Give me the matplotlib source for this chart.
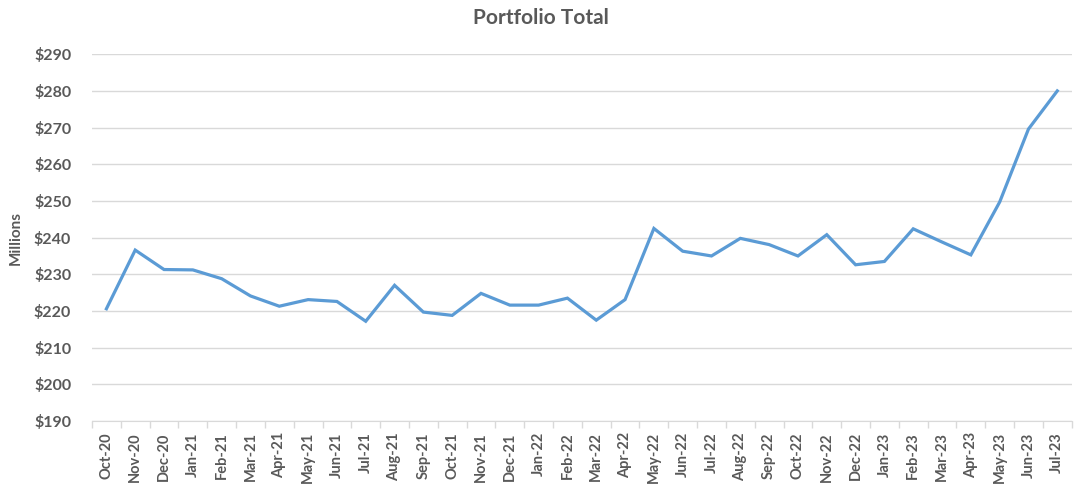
# -*- coding: utf-8 -*-
import matplotlib
matplotlib.use('Agg')
import matplotlib.pyplot as plt
from matplotlib.ticker import FuncFormatter, MultipleLocator, FixedLocator

# Data (millions of dollars)
months = ['Oct-20', 'Nov-20', 'Dec-20', 'Jan-21', 'Feb-21', 'Mar-21', 'Apr-21',
          'May-21', 'Jun-21', 'Jul-21', 'Aug-21', 'Sep-21', 'Oct-21', 'Nov-21',
          'Dec-21', 'Jan-22', 'Feb-22', 'Mar-22', 'Apr-22', 'May-22', 'Jun-22',
          'Jul-22', 'Aug-22', 'Sep-22', 'Oct-22', 'Nov-22', 'Dec-22', 'Jan-23',
          'Feb-23', 'Mar-23', 'Apr-23', 'May-23', 'Jun-23', 'Jul-23']
totals = [220.6, 236.6, 231.3, 231.2, 228.8, 224.1, 221.3, 223.1, 222.6, 217.2,
          227.0, 219.7, 218.8, 224.8, 221.6, 221.6, 223.5, 217.5, 223.1, 242.5,
          236.3, 235.0, 239.8, 238.1, 235.0, 240.8, 232.6, 233.5, 242.4, 238.8,
          235.3, 249.7, 269.6, 280.0]

text_color = '#595959'
plt.rcParams['font.family'] = ['Lato', 'DejaVu Sans']

fig = plt.figure(figsize=(10.76, 4.93), dpi=100)
ax = fig.add_axes([0.0855, 0.146, 0.9105, 0.744])

x = list(range(len(months)))
ax.plot(x, totals, color='#5B9BD5', linewidth=2.3, solid_joinstyle='miter')

ax.set_xlim(-0.5, len(months) - 0.5)
ax.set_ylim(190, 290)
ax.yaxis.set_major_locator(MultipleLocator(10))
ax.yaxis.set_major_formatter(FuncFormatter(lambda v, p: '${:.0f}'.format(v)))
ax.grid(axis='y', color='#d9d9d9', linewidth=1.0)
ax.set_axisbelow(True)

# category labels, tick marks between categories
ax.set_xticks(x)
ax.set_xticklabels(months, rotation=90)
ax.xaxis.set_minor_locator(FixedLocator([i - 0.5 for i in range(len(months) + 1)]))
ax.tick_params(axis='x', which='major', length=0, pad=8, labelsize=10.5,
               labelcolor=text_color)
ax.tick_params(axis='x', which='minor', length=5, color='#d9d9d9', width=1)
ax.tick_params(axis='y', length=0, pad=15, labelsize=11.5, labelcolor=text_color)
for lbl in ax.get_xticklabels() + ax.get_yticklabels():
    lbl.set_fontweight('bold')

for side in ['top', 'right', 'left']:
    ax.spines[side].set_visible(False)
ax.spines['bottom'].set_color('#d9d9d9')

ax.set_ylabel('Millions', color=text_color, fontsize=11, fontweight='bold',
              labelpad=8)
fig.text(0.503, 0.963, 'Portfolio Total', color=text_color, fontsize=15,
         fontweight='bold', ha='center', va='center')

fig.savefig('out.png', dpi=100)
